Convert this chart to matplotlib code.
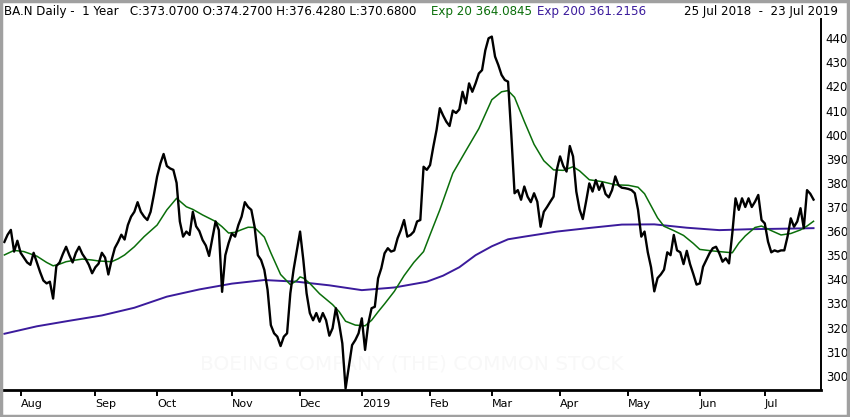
import matplotlib
matplotlib.use("Agg")
import matplotlib.pyplot as plt
import numpy as np
import pandas as pd
from matplotlib.patches import Rectangle

# trading days 25 Jul 2018 .. 23 Jul 2019 (NYSE holidays removed)
holidays = ["2018-09-03", "2018-11-22", "2018-12-05", "2018-12-25", "2019-01-01",
            "2019-01-21", "2019-02-18", "2019-04-19", "2019-05-27", "2019-07-04"]
days = pd.bdate_range("2018-07-25", "2019-07-23")
days = days[~days.isin(pd.to_datetime(holidays))]

# daily closes
close = [
    355.5, 358.5, 360.5, 351.5, 356, 351, 349, 347, 346, 351,
    347, 343, 339.5, 338.3, 339, 332, 345.5, 347, 350.5, 353.5,
    350, 347, 351, 353.5, 350.5, 348.5, 346, 342.5, 345, 346.5,
    351, 349, 342, 348, 353, 355.5, 358.5, 356.5, 362.5, 366,
    368, 372, 368, 366, 364.6, 368, 375, 382.6, 388, 392,
    387, 386, 385.4, 380, 364, 357.7, 359.8, 358.4, 368, 362,
    360, 356.3, 354, 349.7, 357, 364, 360.4, 334.8, 350, 355,
    359, 357.7, 362.5, 366, 372, 370, 368.8, 361.8, 350, 348,
    343.9, 335.6, 321, 317.6, 316.2, 312.3, 316.2, 317.6, 334.2, 344,
    352, 359.8, 348, 334.2, 326, 323, 326, 322.4, 326, 323,
    316.6, 319.7, 328, 321.7, 313.4, 294.7, 303.7, 312.7, 314.8, 317.6,
    323.8, 310.7, 321.7, 328, 328.6, 340.4, 344.6, 350.8, 352.9, 351.5,
    352, 357, 360.4, 364.6, 357.7, 358.4, 359.8, 364, 364.6, 386.7,
    385.4, 387.4, 395, 402, 411, 408, 405.4, 403.6, 410, 409,
    410.5, 417.8, 413, 421.3, 417.8, 421.3, 425.4, 426.8, 435, 440,
    440.7, 432.4, 428.9, 424.8, 422.7, 422, 400, 375.7, 377, 373,
    378.5, 374.3, 372, 375.7, 372.2, 361.8, 368, 370, 372.2, 374.3,
    385.4, 391, 387, 384.7, 395.3, 391, 376.4, 369, 365, 372.2,
    379.8, 376.4, 381.2, 377.1, 380, 375.4, 374, 377, 382.7, 379,
    378, 377.8, 377.5, 377, 375.7, 368.8, 357.7, 359.8, 351.2, 345,
    335, 340.5, 342, 344, 351.2, 350, 358.4, 352, 351.2, 346.3,
    351.8, 346.3, 342.2, 337.8, 338.3, 345.2, 348, 350.8, 352.9, 353.5,
    350.8, 347.3, 348.7, 346.6, 359, 373.6, 368.8, 373.6, 370, 373.6,
    370, 372.2, 375, 364.6, 363.2, 355.6, 351.2, 352, 351.5, 352,
    352, 357.7, 365.3, 361.8, 364, 369.5, 361.2, 377, 375.5, 373.07,
]

# Exp 20
ema20_day = [0, 3, 6, 10, 13, 15, 17, 19, 22, 24, 27, 29, 33, 35, 37, 40, 43, 47,
             50, 53, 56, 58, 61, 65, 67, 69, 71, 73, 75, 77, 80, 82, 85, 88, 90, 91,
             92, 94, 97, 101, 103, 105, 108, 111, 113, 115, 117, 120, 123, 126, 129,
             131, 134, 138, 142, 146, 150, 153, 155, 157, 160, 163, 166, 169, 172,
             175, 177, 180, 184, 188, 192, 195, 197, 199, 201, 203, 206, 209, 212,
             214, 217, 220, 224, 226, 228, 231, 233, 236, 239, 242, 245, 247, 249]
ema20_val = [350.1, 352, 351.5, 349.6, 347, 345.6, 346.3, 347.3, 348, 348.4, 348,
             347.6, 347.3, 348.5, 350.1, 353.5, 357.7, 362.5, 368.8, 373.6, 370.1,
             369, 366.7, 364, 361.8, 359.2, 359.5, 360.6, 361.6, 361.5, 357.5, 351,
             342, 337.8, 339.5, 341, 340.5, 338.3, 334, 329.5, 326.6, 322.6, 321,
             320.7, 323, 326.5, 329.8, 335, 341.5, 347, 351.5, 358.5, 368.8, 384,
             393.3, 402.5, 414.5, 417.8, 418.3, 415.5, 405.5, 396, 389.2, 385.4,
             385.2, 386.7, 385, 381.3, 380.5, 379.2, 379, 378.2, 375.5, 370.5, 365.5,
             362, 360.2, 358.2, 354.9, 352.4, 351.9, 351.5, 351, 355, 358, 361.5,
             362.1, 360.2, 358.4, 359, 360.5, 362.1, 364.08]

# Exp 200
ema200_day = [0, 10, 20, 30, 40, 50, 60, 70, 80, 90, 100, 110, 120, 130, 135, 140,
              145, 150, 155, 160, 170, 180, 190, 200, 210, 220, 230, 240, 249]
ema200_val = [317.4, 320.5, 322.8, 325, 328.2, 332.8, 335.8, 338.2, 339.7, 339,
              337.5, 335.5, 336.6, 339, 341.5, 345, 350, 353.7, 356.6, 357.7, 359.8,
              361.3, 362.7, 362.8, 361.4, 360.4, 360.8, 361, 361.22]

yticks = list(range(300, 441, 10))

plt.rcParams["font.family"] = ["DejaVu Sans"]

fig = plt.figure(figsize=(8.5, 4.17), dpi=100)
ax = fig.add_axes([3 / 850, 27 / 417, 818 / 850, 371 / 417])

x = np.arange(len(close))
ax.plot(ema200_day, ema200_val, color="#3b1b9c", lw=1.4, zorder=2)
ax.plot(ema20_day, ema20_val, color="#0a6e0a", lw=1.1, zorder=3)
ax.plot(x, close, color="black", lw=1.7, zorder=4)

ax.set_xlim(-0.42, 251.3)
ax.set_ylim(294.07, 448.0)

# month ticks at first session of each month
pos = [i for i in range(1, len(days)) if days[i].month != days[i - 1].month]
labels = ["2019" if days[i].month == 1 else days[i].strftime("%b") for i in pos]
ax.set_xticks(pos)
ax.set_xticklabels(labels, fontsize=8)
for t in ax.get_xticklabels():
    t.set_horizontalalignment("left")
ax.tick_params(axis="x", direction="out", length=4.5, width=1.4, pad=2)

ax.yaxis.tick_right()
ax.set_yticks(yticks)
ax.set_yticklabels([str(v) for v in yticks], fontsize=8.5)
ax.tick_params(axis="y", length=0, pad=3.5)

for side in ["left", "top"]:
    ax.spines[side].set_visible(False)
ax.spines["right"].set_linewidth(1.4)
ax.spines["bottom"].set_linewidth(2)

ax.text(0.5, 0.07, "BOEING COMPANY (THE) COMMON STOCK", transform=ax.transAxes,
        ha="center", va="center", fontsize=14.5, color="#f8f8f8", zorder=1)

# header line
hy = 1 - 12 / 417
fig.text(4 / 850, hy,
         "BA.N Daily -  1 Year   C:373.0700 O:374.2700 H:376.4280 L:370.6800",
         fontsize=8.6, va="center", ha="left")
fig.text(431 / 850, hy, "Exp 20 364.0845", fontsize=8.6,
         color="#0a6e0a", va="center", ha="left")
fig.text(537 / 850, hy, "Exp 200 361.2156", fontsize=8.6,
         color="#3b1b9c", va="center", ha="left")
fig.text(838 / 850, hy, "25 Jul 2018  -  23 Jul 2019", fontsize=8.6,
         va="center", ha="right")

fig.patches.append(Rectangle((0.001, 0.002), 0.997, 0.996, transform=fig.transFigure,
                             fill=False, edgecolor="#a0a0a0", lw=2.5))

fig.savefig("out.png", dpi=100)
